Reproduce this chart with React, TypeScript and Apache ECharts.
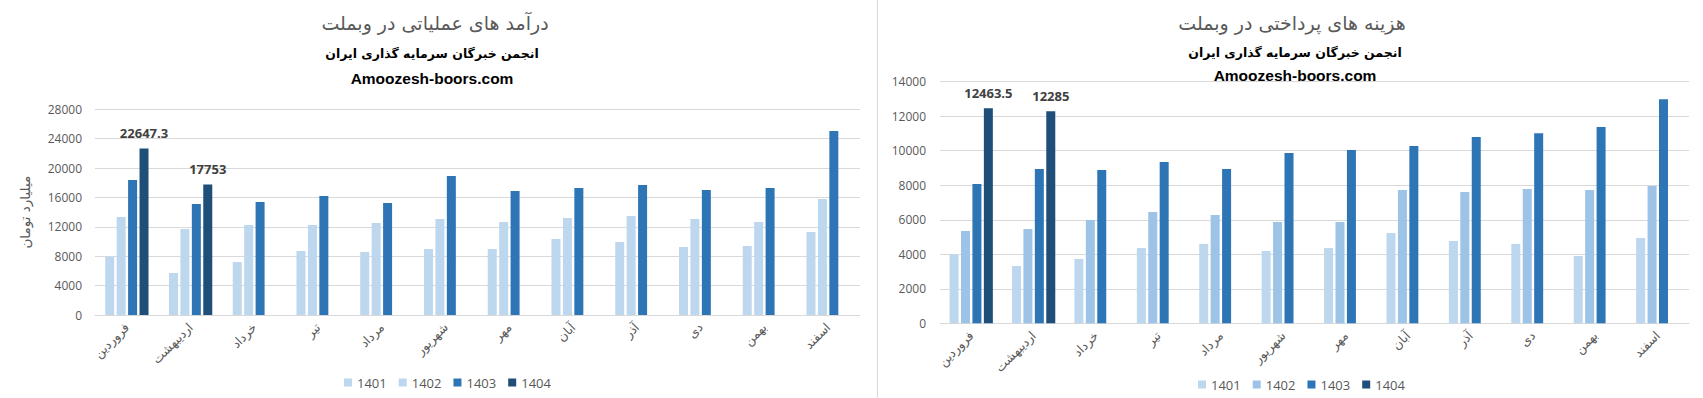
import React, { useEffect, useRef } from "react";
import * as echarts from "echarts";

const months = ["فروردین", "اردیبهشت", "خرداد", "تیر", "مرداد", "شهریور", "مهر", "آبان", "آذر", "دی", "بهمن", "اسفند"];
const years = ["1401", "1402", "1403", "1404"];

const income1401 = [7950, 5720, 7210, 8710, 8580, 8980, 8980, 10350, 9940, 9260, 9390, 11300];
const income1402 = [13340, 11710, 12250, 12250, 12520, 13070, 12660, 13200, 13480, 13070, 12660, 15790];
const income1403 = [18380, 15110, 15380, 16200, 15250, 18920, 16880, 17290, 17700, 17020, 17290, 25050];
const income1404 = [22647.3, 17753, null, null, null, null, null, null, null, null, null, null];

const cost1401 = [3980, 3320, 3730, 4360, 4600, 4190, 4360, 5230, 4770, 4600, 3900, 4940];
const cost1402 = [5350, 5460, 5990, 6450, 6270, 5870, 5870, 7720, 7610, 7780, 7720, 7950];
const cost1403 = [8070, 8940, 8880, 9340, 8940, 9870, 10040, 10270, 10790, 11020, 11370, 12990];
const cost1404 = [12463.5, 12285, null, null, null, null, null, null, null, null, null, null];

const leftTitle = "درآمد های عملیاتی در وبملت";
const rightTitle = "هزینه های پرداختی در وبملت";
const subTitle = "انجمن خبرگان سرمایه گذاری ایران";
const siteText = "Amoozesh-boors.com";
const yName = "میلیارد تومان";

const leftColors = ["#BDD7EE", "#BDD7EE", "#2E75B6", "#1F4E79"];
const rightColors = ["#BDD7EE", "#9DC3E6", "#2E75B6", "#1F4E79"];

const FA = "DejaVu Sans";
const NUM = "Open Sans";

export default function App() {
  const ref = useRef<HTMLDivElement>(null);
  useEffect(() => {
    if (!ref.current) return;
    const chart = echarts.init(ref.current, undefined, { renderer: "svg" });
    const mkSeries = (data: (number | null)[], idx: number, gi: number, colors: string[]) => ({
      type: "bar",
      name: years[idx],
      xAxisIndex: gi,
      yAxisIndex: gi,
      data,
      barWidth: 9,
      barGap: "27%",
      itemStyle: { color: colors[idx] },
      label:
        idx === 3
          ? {
              show: true,
              position: "top",
              distance: 9,
              color: "#404040",
              fontWeight: "bold",
              fontSize: 13,
              fontFamily: NUM,
              formatter: (p: any) => String(p.value),
            }
          : { show: false },
    });
    const xAxisCommon = {
      type: "category",
      data: months,
      axisTick: { show: false },
      axisLine: { lineStyle: { color: "#D9D9D9" } },
      axisLabel: { rotate: 45, interval: 0, fontSize: 12.5, color: "#595959", fontFamily: FA, margin: 10 },
    };
    const yAxisCommon = {
      type: "value",
      min: 0,
      axisLine: { show: false },
      axisTick: { show: false },
      splitLine: { lineStyle: { color: "#D9D9D9" } },
      axisLabel: { color: "#595959", fontSize: 12, fontFamily: NUM, margin: 13, formatter: (v: number) => String(v) },
    };
    const legendCommon = {
      orient: "horizontal",
      icon: "rect",
      itemWidth: 8,
      itemHeight: 8,
      itemGap: 12,
      selectedMode: false,
      textStyle: { color: "#595959", fontSize: 13, fontFamily: NUM },
    };
    const txt = (x: number, y: number, text: string, font: string, fill: string) => ({
      type: "text",
      x,
      y,
      style: { text, font, fill, textAlign: "center", textVerticalAlign: "middle" },
    });
    chart.setOption({
      animation: false,
      backgroundColor: "#FFFFFF",
      grid: [
        { left: 95, right: 843, top: 109.3, bottom: 83 },
        { left: 940, right: 14, top: 81.7, bottom: 74.7 },
      ],
      xAxis: [
        { ...xAxisCommon, gridIndex: 0 },
        { ...xAxisCommon, gridIndex: 1 },
      ],
      yAxis: [
        {
          ...yAxisCommon,
          gridIndex: 0,
          max: 28000,
          interval: 4000,
          name: yName,
          nameLocation: "middle",
          nameRotate: 90,
          nameGap: 63,
          nameTextStyle: { color: "#595959", fontSize: 13.5, fontFamily: FA },
        },
        { ...yAxisCommon, gridIndex: 1, max: 14000, interval: 2000, axisLabel: { ...yAxisCommon.axisLabel, margin: 14 } },
      ],
      legend: [
        {
          ...legendCommon,
          left: 339,
          top: 371,
          data: years.map((y, i) => ({ name: y, itemStyle: { color: leftColors[i] } })),
        },
        {
          ...legendCommon,
          left: 1193,
          top: 373,
          data: years.map((y, i) => ({ name: y, itemStyle: { color: rightColors[i] } })),
        },
      ],
      series: [
        mkSeries(income1401, 0, 0, leftColors),
        mkSeries(income1402, 1, 0, leftColors),
        mkSeries(income1403, 2, 0, leftColors),
        mkSeries(income1404, 3, 0, leftColors),
        mkSeries(cost1401, 0, 1, rightColors),
        mkSeries(cost1402, 1, 1, rightColors),
        mkSeries(cost1403, 2, 1, rightColors),
        mkSeries(cost1404, 3, 1, rightColors),
      ],
      graphic: [
        { type: "line", shape: { x1: 877.5, y1: 0, x2: 877.5, y2: 398 }, style: { stroke: "#D9D9D9", lineWidth: 1 } },
        txt(435, 23, leftTitle, `19px "${FA}"`, "#595959"),
        txt(432, 53, subTitle, `bold 12.5px "${FA}"`, "#000000"),
        txt(432, 78, siteText, `bold 15.5px "Liberation Sans"`, "#000000"),
        txt(1292, 23, rightTitle, `19px "${FA}"`, "#595959"),
        txt(1295, 52, subTitle, `bold 12.5px "${FA}"`, "#000000"),
        txt(1295, 75, siteText, `bold 15.5px "Liberation Sans"`, "#000000"),
      ],
    });
    return () => chart.dispose();
  }, []);
  return <div ref={ref} style={{ position: "absolute", left: 0, top: 0, width: 1703, height: 398 }} />;
}
